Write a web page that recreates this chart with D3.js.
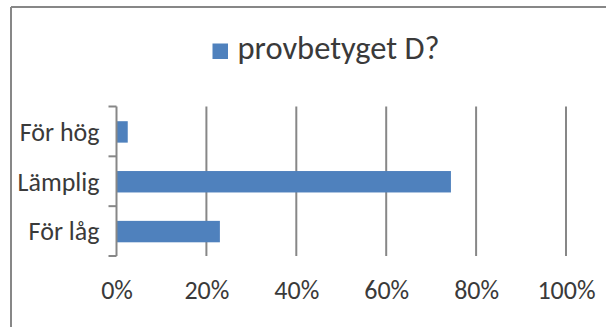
<!DOCTYPE html>
<html><head><meta charset="utf-8">
<script src="https://cdn.jsdelivr.net/npm/d3@7"></script>
<style>html,body{margin:0;padding:0;background:#fff;overflow:hidden}</style>
</head><body>
<svg id="c" width="606" height="327"></svg>
<script>
const categories = ["För hög", "Lämplig", "För låg"];
const values = [0.025, 0.744, 0.230];
const seriesName = "provbetyget D?";
const tickValues = [0, 0.2, 0.4, 0.6, 0.8, 1.0];

const FONT = "Carlito, Calibri, Lato, sans-serif";
const svg = d3.select("#c");
const gray = "#878787";
const barColor = "#4f81bd";
const textColor = "#3a3a3a";

// outer chart border (top and left visible)
svg.append("path").attr("d", "M11,7H606M11,7V327").attr("fill","none").attr("stroke", gray).attr("stroke-width", 2);

const x = d3.scaleLinear().domain([0, 1]).range([116.5, 566]);
const y = d3.scaleBand().domain(categories).range([106.5, 256]).padding(0);

// gridlines
svg.append("g").selectAll("line").data(tickValues.slice(1)).join("line")
  .attr("x1", d => x(d)).attr("x2", d => x(d))
  .attr("y1", y.range()[0]).attr("y2", y.range()[1])
  .attr("stroke", gray).attr("stroke-width", 2);

// bars
const barH = y.bandwidth() * 0.43;
svg.append("g").selectAll("rect").data(categories).join("rect")
  .attr("x", x(0)).attr("y", d => y(d) + (y.bandwidth() - barH) / 2 + 0.5)
  .attr("width", (d, i) => x(values[i]) - x(0)).attr("height", barH)
  .attr("fill", barColor);

// y axis
const yAxis = d3.axisLeft(y).tickSize(0).tickPadding(17);
const gy = svg.append("g").attr("transform", `translate(${x(0)},0)`).call(yAxis);
gy.select(".domain").remove();
gy.selectAll("text").attr("font-family", FONT).attr("font-size", 26).attr("fill", textColor).attr("dy", "0.36em");
gy.append("line").attr("x1",0).attr("x2",0).attr("y1", y.range()[0]).attr("y2", y.range()[1]).attr("stroke", gray).attr("stroke-width", 2);
const bounds = [...categories.map(c => y(c)), y.range()[1]];
gy.selectAll(".btick").data(bounds).join("line").attr("class","btick")
  .attr("x1", -8).attr("x2", 0).attr("y1", d => d).attr("y2", d => d)
  .attr("stroke", gray).attr("stroke-width", 2);

// x axis labels
const xAxis = d3.axisBottom(x).tickValues(tickValues).tickFormat(d3.format(".0%")).tickSize(0).tickPadding(0);
const gx = svg.append("g").attr("transform", "translate(0,298.5)").call(xAxis);
gx.select(".domain").remove();
gx.selectAll("text").attr("font-family", FONT).attr("font-size", 26).attr("fill", textColor).attr("dy", 0);

// legend
const lg = svg.append("g");
lg.append("rect").attr("x", 212.5).attr("y", 43.5).attr("width", 15.5).attr("height", 15.5).attr("fill", barColor);
lg.append("text").attr("x", 237.5).attr("y", 59.3).text(seriesName)
  .attr("font-family", FONT).attr("font-size", 32.5).attr("fill", textColor);
</script>
</body></html>
